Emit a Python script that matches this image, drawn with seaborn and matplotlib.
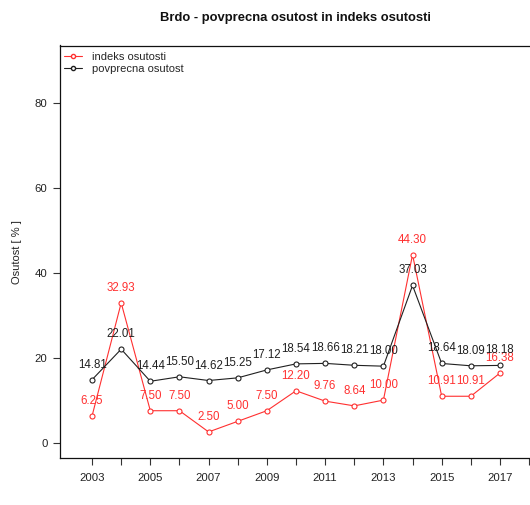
import pandas as pd
import matplotlib
matplotlib.use('Agg')
import matplotlib.pyplot as plt
import seaborn as sns
from matplotlib.lines import Line2D

years = [2003, 2004, 2005, 2006, 2007, 2008, 2009, 2010, 2011, 2012, 2013, 2014, 2015, 2016, 2017]
indeks = [6.25, 32.93, 7.50, 7.50, 2.50, 5.00, 7.50, 12.20, 9.76, 8.64, 10.00, 44.30, 10.91, 10.91, 16.38]
povprecna = [14.81, 22.01, 14.44, 15.50, 14.62, 15.25, 17.12, 18.54, 18.66, 18.21, 18.00, 37.03, 18.64, 18.09, 18.18]
series_names = ['indeks osutosti', 'povprecna osutost']
series_colors = ['#ff3030', '#202020']

sns.set_style('ticks')
plt.rcParams['font.family'] = ['Liberation Sans', 'DejaVu Sans']

df = pd.DataFrame({'Leto': years, 'indeks': indeks, 'povprecna': povprecna})

fig = plt.figure(figsize=(5.3, 5.05), dpi=100)
ax = fig.add_axes([60 / 530, (505 - 457.8) / 505, 472 / 530, (457.8 - 45.5) / 505])

for col, color in zip(['indeks', 'povprecna'], series_colors):
    sns.lineplot(data=df, x='Leto', y=col, ax=ax, color=color, lw=0.8,
                 marker='o', markersize=3.6, markerfacecolor='white',
                 markeredgecolor=color, markeredgewidth=0.8)
    for x, y in zip(df['Leto'], df[col]):
        ax.annotate(f'{y:.2f}', (x, y), xytext=(0, 15), textcoords='offset pixels',
                    ha='center', va='center', fontsize=8.3, color=color)

ax.set_xlim(2001.9, 2018.1)
ax.set_ylim(-3.6, 93.6)
ax.set_xticks(years + [2018])
ax.set_xticklabels([str(y) if y % 2 == 1 else '' for y in years + [2018]])
ax.set_yticks([0, 20, 40, 60, 80])
ax.tick_params(axis='both', direction='out', length=5, width=0.8, color='#333333',
               labelsize=8.2, labelcolor='#222222')
ax.tick_params(axis='x', pad=6)
ax.tick_params(axis='y', pad=4)
for s in ['left', 'bottom', 'top']:
    ax.spines[s].set_color('#111111')
    ax.spines[s].set_linewidth(0.9)
ax.spines['right'].set_visible(False)

ax.set_xlabel('LETO', fontsize=8, color='#222222', labelpad=16)
ax.set_ylabel('Osutost [ % ]', fontsize=8, color='#222222', labelpad=9)
fig.text(295 / 530, 1 - 18 / 505, 'Brdo - povprecna osutost in indeks osutosti',
         ha='center', va='center', fontsize=9.4, fontweight='bold', color='#111111')

handles = [Line2D([], [], color=c, lw=0.8, marker='o', markersize=3,
                  markerfacecolor='white', markeredgecolor=c) for c in series_colors]
ax.legend(handles, series_names, loc='upper left', frameon=False, fontsize=8,
          handlelength=1.6, handletextpad=0.9, labelspacing=0.15,
          borderaxespad=0.0, borderpad=0.6, bbox_to_anchor=(-0.005, 1.0))

fig.savefig('out.png', dpi=100)
